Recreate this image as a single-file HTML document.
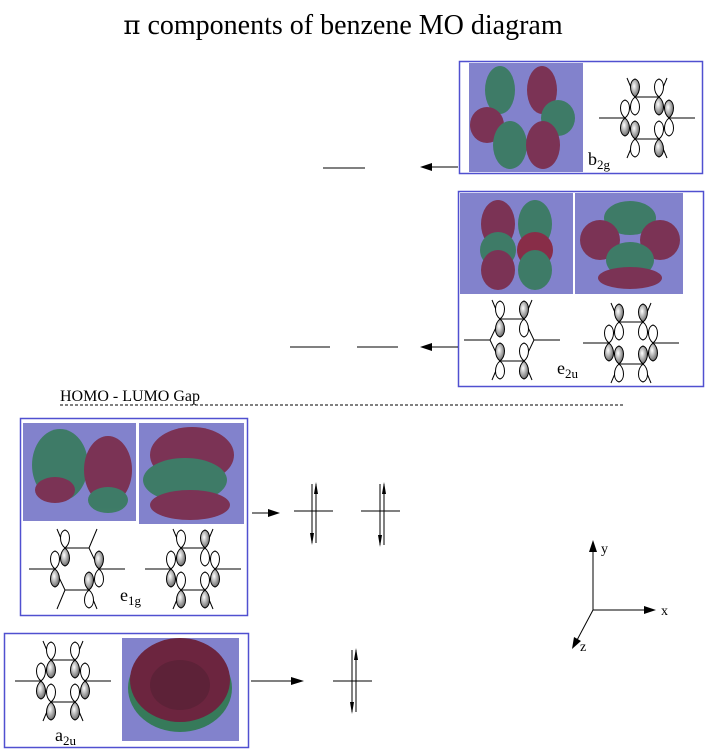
<!DOCTYPE html>
<html><head><meta charset="utf-8"><style>
html,body{margin:0;padding:0;background:#fff;}
svg{display:block;}
#title{position:absolute;left:0;top:8px;width:686px;text-align:center;font-family:"Liberation Serif","DejaVu Serif",serif;font-size:28px;line-height:36px;white-space:nowrap;}
</style></head><body>
<div id="title"><span style="font-family:'DejaVu Serif',serif;font-size:26px">π</span> components of benzene MO diagram</div>
<svg width="709" height="752" viewBox="0 0 709 752" xmlns="http://www.w3.org/2000/svg" font-family="Liberation Serif, serif">
<defs>
<radialGradient id="gl" cx="0.4" cy="0.4" r="0.7"><stop offset="0" stop-color="#fff"/><stop offset="1" stop-color="#555"/></radialGradient>
<g id="lobeU"><path d="M0,0 C-6,-5 -6,-16 0,-18 C6,-16 6,-5 0,0Z" fill="#fff" stroke="#000" stroke-width="1"/></g>
<g id="lobeUf"><path d="M0,0 C-6,-5 -6,-16 0,-18 C6,-16 6,-5 0,0Z" fill="url(#gl)" stroke="#000" stroke-width="1"/></g>
<g id="lobeD"><path d="M0,0 C-6,5 -6,16 0,18 C6,16 6,5 0,0Z" fill="#fff" stroke="#000" stroke-width="1"/></g>
<g id="lobeDf"><path d="M0,0 C-6,5 -6,16 0,18 C6,16 6,5 0,0Z" fill="url(#gl)" stroke="#000" stroke-width="1"/></g>
<g id="hex" stroke="#000" stroke-width="1" fill="none">
<path d="M-12,-21 L12,-21 L22,0 L12,21 L-12,21 L-22,0 Z"/>
<path d="M-12,-21 L-20,-40 M12,-21 L20,-40 M12,21 L20,40 M-12,21 L-20,40 M-22,0 L-48,0 M22,0 L48,0"/>
</g>
</defs>

<!-- b2g box -->
<rect x="459.5" y="61.5" width="243" height="112" fill="#fff" stroke="#5050d0" stroke-width="1.5"/>
<rect x="469" y="63" width="114" height="109" fill="#8282cc"/>
<g opacity="0.8">
<ellipse cx="500" cy="90" rx="15" ry="24" fill="#2e7a4e"/>
<ellipse cx="542" cy="90" rx="15" ry="24" fill="#7a2038"/>
<ellipse cx="487" cy="125" rx="17" ry="18" fill="#7a2038"/>
<ellipse cx="558" cy="118" rx="17" ry="18" fill="#2e7a4e"/>
<ellipse cx="510" cy="145" rx="17" ry="24" fill="#2e7a4e"/>
<ellipse cx="543" cy="145" rx="17" ry="24" fill="#7a2038"/>
</g>
<g transform="translate(647,118)"><use href="#hex"/>
<use href="#lobeUf" x="-12" y="-21"/><use href="#lobeD" x="-12" y="-21"/><use href="#lobeU" x="12" y="-21"/><use href="#lobeDf" x="12" y="-21"/>
<use href="#lobeU" x="-22" y="0"/><use href="#lobeDf" x="-22" y="0"/><use href="#lobeUf" x="22" y="0"/><use href="#lobeD" x="22" y="0"/>
<use href="#lobeUf" x="-12" y="21"/><use href="#lobeD" x="-12" y="21"/><use href="#lobeU" x="12" y="21"/><use href="#lobeDf" x="12" y="21"/>
</g>
<text x="588" y="165" font-size="18">b<tspan font-size="13" dy="4">2g</tspan></text>
<line x1="458" y1="167" x2="428" y2="167" stroke="#000"/><path d="M420,167 L432,163 L432,171Z"/>
<line x1="323" y1="168" x2="365" y2="168" stroke="#000"/>

<!-- e2u box -->
<rect x="458.5" y="191.5" width="245" height="195" fill="#fff" stroke="#5050d0" stroke-width="1.5"/>
<rect x="460" y="193" width="113" height="101" fill="#8282cc"/>
<rect x="575" y="193" width="108" height="101" fill="#8282cc"/>
<g opacity="0.8">
<ellipse cx="498" cy="224" rx="17" ry="24" fill="#7a2038"/><ellipse cx="535" cy="224" rx="17" ry="24" fill="#2e7a4e"/>
<ellipse cx="498" cy="250" rx="18" ry="18" fill="#2e7a4e"/><ellipse cx="535" cy="250" rx="18" ry="18" fill="#8a1828"/>
<ellipse cx="498" cy="270" rx="17" ry="20" fill="#7a2038"/><ellipse cx="535" cy="270" rx="17" ry="20" fill="#2e7a4e"/>
<ellipse cx="630" cy="218" rx="26" ry="17" fill="#2e7a4e"/>
<ellipse cx="600" cy="240" rx="20" ry="20" fill="#7a2038"/><ellipse cx="660" cy="240" rx="20" ry="20" fill="#7a2038"/>
<ellipse cx="630" cy="260" rx="24" ry="18" fill="#2e7a4e"/><ellipse cx="630" cy="278" rx="32" ry="11" fill="#7a2038"/>
</g>
<g transform="translate(512,340)"><use href="#hex"/>
<use href="#lobeU" x="-12" y="-21"/><use href="#lobeDf" x="-12" y="-21"/><use href="#lobeUf" x="12" y="-21"/><use href="#lobeD" x="12" y="-21"/>
<use href="#lobeUf" x="-12" y="21"/><use href="#lobeD" x="-12" y="21"/><use href="#lobeU" x="12" y="21"/><use href="#lobeDf" x="12" y="21"/>
</g>
<g transform="translate(631,343)"><use href="#hex"/>
<use href="#lobeUf" x="-12" y="-21"/><use href="#lobeD" x="-12" y="-21"/><use href="#lobeUf" x="12" y="-21"/><use href="#lobeD" x="12" y="-21"/>
<use href="#lobeU" x="-22" y="0"/><use href="#lobeDf" x="-22" y="0"/><use href="#lobeU" x="22" y="0"/><use href="#lobeDf" x="22" y="0"/>
<use href="#lobeUf" x="-12" y="21"/><use href="#lobeD" x="-12" y="21"/><use href="#lobeUf" x="12" y="21"/><use href="#lobeD" x="12" y="21"/>
</g>
<text x="557" y="374" font-size="18">e<tspan font-size="13" dy="4">2u</tspan></text>
<line x1="458" y1="347" x2="428" y2="347" stroke="#000"/><path d="M420,347 L432,343 L432,351Z"/>
<line x1="290" y1="347" x2="330" y2="347" stroke="#000"/>
<line x1="357" y1="347" x2="398" y2="347" stroke="#000"/>

<!-- gap -->
<text x="60" y="401" font-size="16">HOMO - LUMO Gap</text>
<line x1="60" y1="405" x2="625" y2="405" stroke="#000" stroke-dasharray="3,2"/>

<!-- e1g box -->
<rect x="20.5" y="418.5" width="227" height="197" fill="#fff" stroke="#5050d0" stroke-width="1.5"/>
<rect x="23" y="423" width="113" height="98" fill="#8282cc"/>
<rect x="139" y="423" width="105" height="101" fill="#8282cc"/>
<g opacity="0.8">
<ellipse cx="60" cy="465" rx="28" ry="36" fill="#2e7a4e"/><ellipse cx="55" cy="490" rx="20" ry="13" fill="#7a2038"/>
<ellipse cx="108" cy="470" rx="24" ry="34" fill="#7a2038"/><ellipse cx="108" cy="500" rx="20" ry="13" fill="#2e7a4e"/>
<ellipse cx="192" cy="455" rx="42" ry="28" fill="#7a2038"/>
<ellipse cx="185" cy="480" rx="42" ry="22" fill="#2e7a4e"/>
<ellipse cx="190" cy="505" rx="40" ry="15" fill="#7a2038"/>
</g>
<g transform="translate(77,569)"><use href="#hex"/>
<use href="#lobeU" x="-12" y="-21"/><use href="#lobeDf" x="-12" y="-21"/>
<use href="#lobeU" x="-22" y="0"/><use href="#lobeDf" x="-22" y="0"/><use href="#lobeUf" x="22" y="0"/><use href="#lobeD" x="22" y="0"/>
<use href="#lobeUf" x="12" y="21"/><use href="#lobeD" x="12" y="21"/>
</g>
<g transform="translate(193,569)"><use href="#hex"/>
<use href="#lobeU" x="-12" y="-21"/><use href="#lobeDf" x="-12" y="-21"/><use href="#lobeUf" x="12" y="-21"/><use href="#lobeD" x="12" y="-21"/>
<use href="#lobeU" x="-22" y="0"/><use href="#lobeDf" x="-22" y="0"/><use href="#lobeU" x="22" y="0"/><use href="#lobeDf" x="22" y="0"/>
<use href="#lobeU" x="-12" y="21"/><use href="#lobeDf" x="-12" y="21"/><use href="#lobeU" x="12" y="21"/><use href="#lobeDf" x="12" y="21"/>
</g>
<text x="120" y="601" font-size="18">e<tspan font-size="13" dy="4">1g</tspan></text>
<line x1="252" y1="513" x2="272" y2="513" stroke="#000"/><path d="M280,513 L268,509 L268,517Z"/>
<g stroke="#000" fill="none">
<line x1="294" y1="511" x2="333" y2="511"/>
<line x1="312" y1="484" x2="312" y2="543"/><line x1="316" y1="484" x2="316" y2="543"/>
<line x1="361" y1="511" x2="400" y2="511"/>
<line x1="380" y1="484" x2="380" y2="545"/><line x1="384" y1="484" x2="384" y2="545"/>
</g>
<path d="M316,482 L318,494 L314,494Z M312,545 L310,533 L314,533Z M384,482 L386,494 L382,494Z M380,547 L378,535 L382,535Z"/>

<!-- a2u box -->
<rect x="4.5" y="633.5" width="244" height="114" fill="#fff" stroke="#5050d0" stroke-width="1.5"/>
<rect x="122" y="638" width="117" height="103" fill="#8282cc"/>
<g opacity="0.9">
<ellipse cx="180" cy="688" rx="52" ry="44" fill="#2e7a4e"/>
<ellipse cx="180" cy="680" rx="50" ry="42" fill="#6a1c30"/>
<ellipse cx="180" cy="685" rx="30" ry="25" fill="#5a1828"/>
</g>
<g transform="translate(63,681)"><use href="#hex"/>
<use href="#lobeU" x="-12" y="-21"/><use href="#lobeDf" x="-12" y="-21"/><use href="#lobeU" x="12" y="-21"/><use href="#lobeDf" x="12" y="-21"/>
<use href="#lobeU" x="-22" y="0"/><use href="#lobeDf" x="-22" y="0"/><use href="#lobeU" x="22" y="0"/><use href="#lobeDf" x="22" y="0"/>
<use href="#lobeU" x="-12" y="21"/><use href="#lobeDf" x="-12" y="21"/><use href="#lobeU" x="12" y="21"/><use href="#lobeDf" x="12" y="21"/>
</g>
<text x="55" y="741" font-size="18">a<tspan font-size="13" dy="4">2u</tspan></text>
<line x1="251" y1="681" x2="294" y2="681" stroke="#000"/><path d="M304,681 L291,677 L291,685Z"/>
<g stroke="#000"><line x1="333" y1="681" x2="372" y2="681"/>
<line x1="352" y1="650" x2="352" y2="712"/><line x1="356" y1="650" x2="356" y2="712"/></g>
<path d="M356,648 L358,660 L354,660Z M352,714 L350,702 L354,702Z"/>

<!-- axes -->
<g stroke="#000"><line x1="593" y1="610" x2="593" y2="548"/><line x1="593" y1="610" x2="648" y2="610"/><line x1="593" y1="610" x2="576" y2="642"/></g>
<path d="M593,540 L589,552 L597,552Z M656,610 L644,606 L644,614Z M572,649 L574,637 L581,641Z"/>
<text x="601" y="553" font-size="14">y</text>
<text x="661" y="615" font-size="14">x</text>
<text x="580" y="651" font-size="14">z</text>
</svg>
</body></html>
